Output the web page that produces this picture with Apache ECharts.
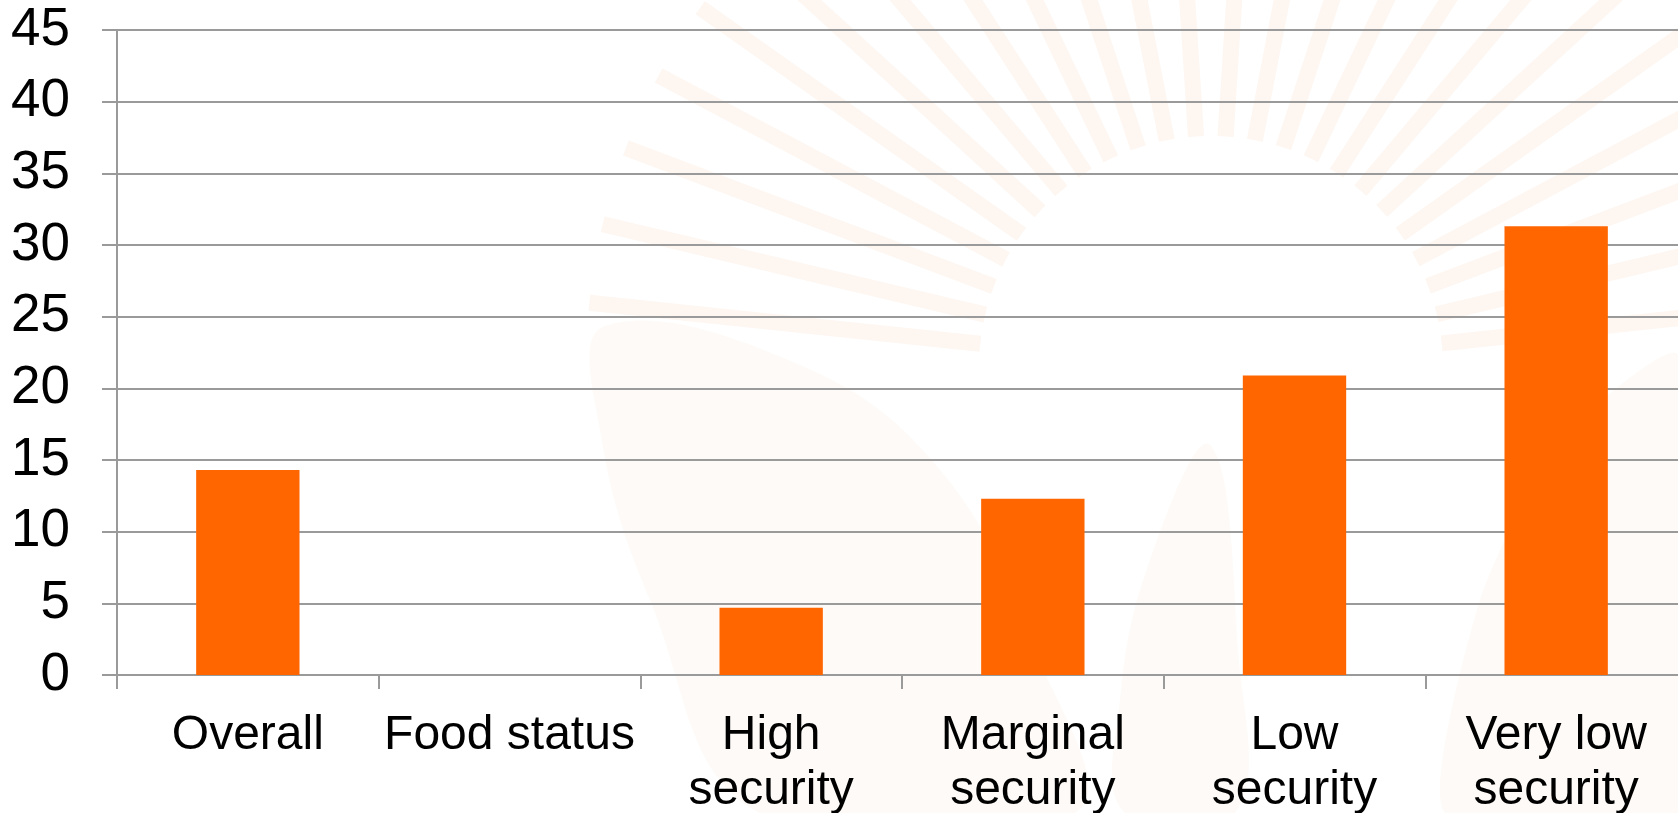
<!DOCTYPE html>
<html>
<head>
<meta charset="utf-8">
<title>Food security</title>
<script src="https://cdn.jsdelivr.net/npm/echarts@6/dist/echarts.min.js"></script>
<style>
  html, body { margin: 0; padding: 0; background: #ffffff; }
  #chart { width: 1678px; height: 813px; }
</style>
</head>
<body>
<div id="chart"></div>
<script>
// Categories along the x axis (line breaks as printed under the bars)
const categories = ['Overall', 'Food status', 'High\nsecurity', 'Marginal\nsecurity', 'Low\nsecurity', 'Very low\nsecurity'];
// Percentages; "Food status" is a group heading with no bar
const values = [14.3, null, 4.7, 12.3, 20.9, 31.3];
// Value axis range and step
const yMin = 0;
const yMax = 45;
const yStep = 5;

// Faint sunburst and leaf motif painted behind the plot
function backdrop() {
  const cx = 1211, cy = 368, r0 = 232, r1 = 625;
  const rays = [];
  for (let a = 6; a <= 174; a += 7.3) {
    const t = a * Math.PI / 180;
    rays.push({
      type: 'line',
      shape: {
        x1: cx - Math.cos(t) * r0, y1: cy - Math.sin(t) * r0,
        x2: cx - Math.cos(t) * r1, y2: cy - Math.sin(t) * r1
      },
      style: { stroke: '#fef6f1', lineWidth: 16, lineCap: 'butt' },
      z: -10, silent: true
    });
  }
  const leafStyle = { fill: '#fefaf7' };
  const leaves = [
    {
      type: 'polygon',
      shape: { points: [[605, 326], [800, 365], [940, 470], [1030, 640], [1075, 813], [760, 813], [650, 600], [600, 430]], smooth: 0.4 },
      style: leafStyle, z: -11, silent: true
    },
    {
      type: 'polygon',
      shape: { points: [[1678, 355], [1560, 440], [1480, 600], [1445, 813], [1678, 813]], smooth: 0.2 },
      style: leafStyle, z: -11, silent: true
    },
    {
      type: 'polygon',
      shape: { points: [[1210, 445], [1150, 560], [1120, 700], [1125, 813], [1235, 813], [1238, 650]], smooth: 0.4 },
      style: leafStyle, z: -11, silent: true
    }
  ];
  return leaves.concat(rays);
}

const chart = echarts.init(document.getElementById('chart'), null, { renderer: 'canvas' });

const axisGray = '#9a9a9a';
const fontFamily = '"Liberation Sans", Arial, Helvetica, sans-serif';

chart.setOption({
  animation: false,
  backgroundColor: '#ffffff',
  graphic: { elements: backdrop() },
  grid: {
    left: 117, top: 30, width: 1570, height: 645,
    containLabel: false,
    outerBoundsMode: 'none'
  },
  xAxis: {
    type: 'category',
    data: categories,
    boundaryGap: true,
    axisLine: { show: true, lineStyle: { color: axisGray, width: 2 } },
    axisTick: { show: true, length: 14, alignWithLabel: false, lineStyle: { color: axisGray, width: 2 } },
    axisLabel: {
      interval: 0,
      margin: 33,
      color: '#000000',
      fontFamily: fontFamily,
      fontSize: 48,
      lineHeight: 55
    },
    splitLine: { show: false }
  },
  yAxis: {
    type: 'value',
    min: yMin,
    max: yMax,
    interval: yStep,
    axisLine: { show: true, lineStyle: { color: axisGray, width: 2 } },
    axisTick: { show: true, length: 15, lineStyle: { color: axisGray, width: 2 } },
    axisLabel: {
      margin: 47,
      color: '#000000',
      fontFamily: fontFamily,
      fontSize: 53
    },
    splitLine: { show: true, lineStyle: { color: axisGray, width: 2 } }
  },
  series: [{
    type: 'bar',
    data: values,
    barWidth: '39.5%',
    itemStyle: { color: '#ff6600' },
    z: 3
  }]
});
</script>
</body>
</html>
